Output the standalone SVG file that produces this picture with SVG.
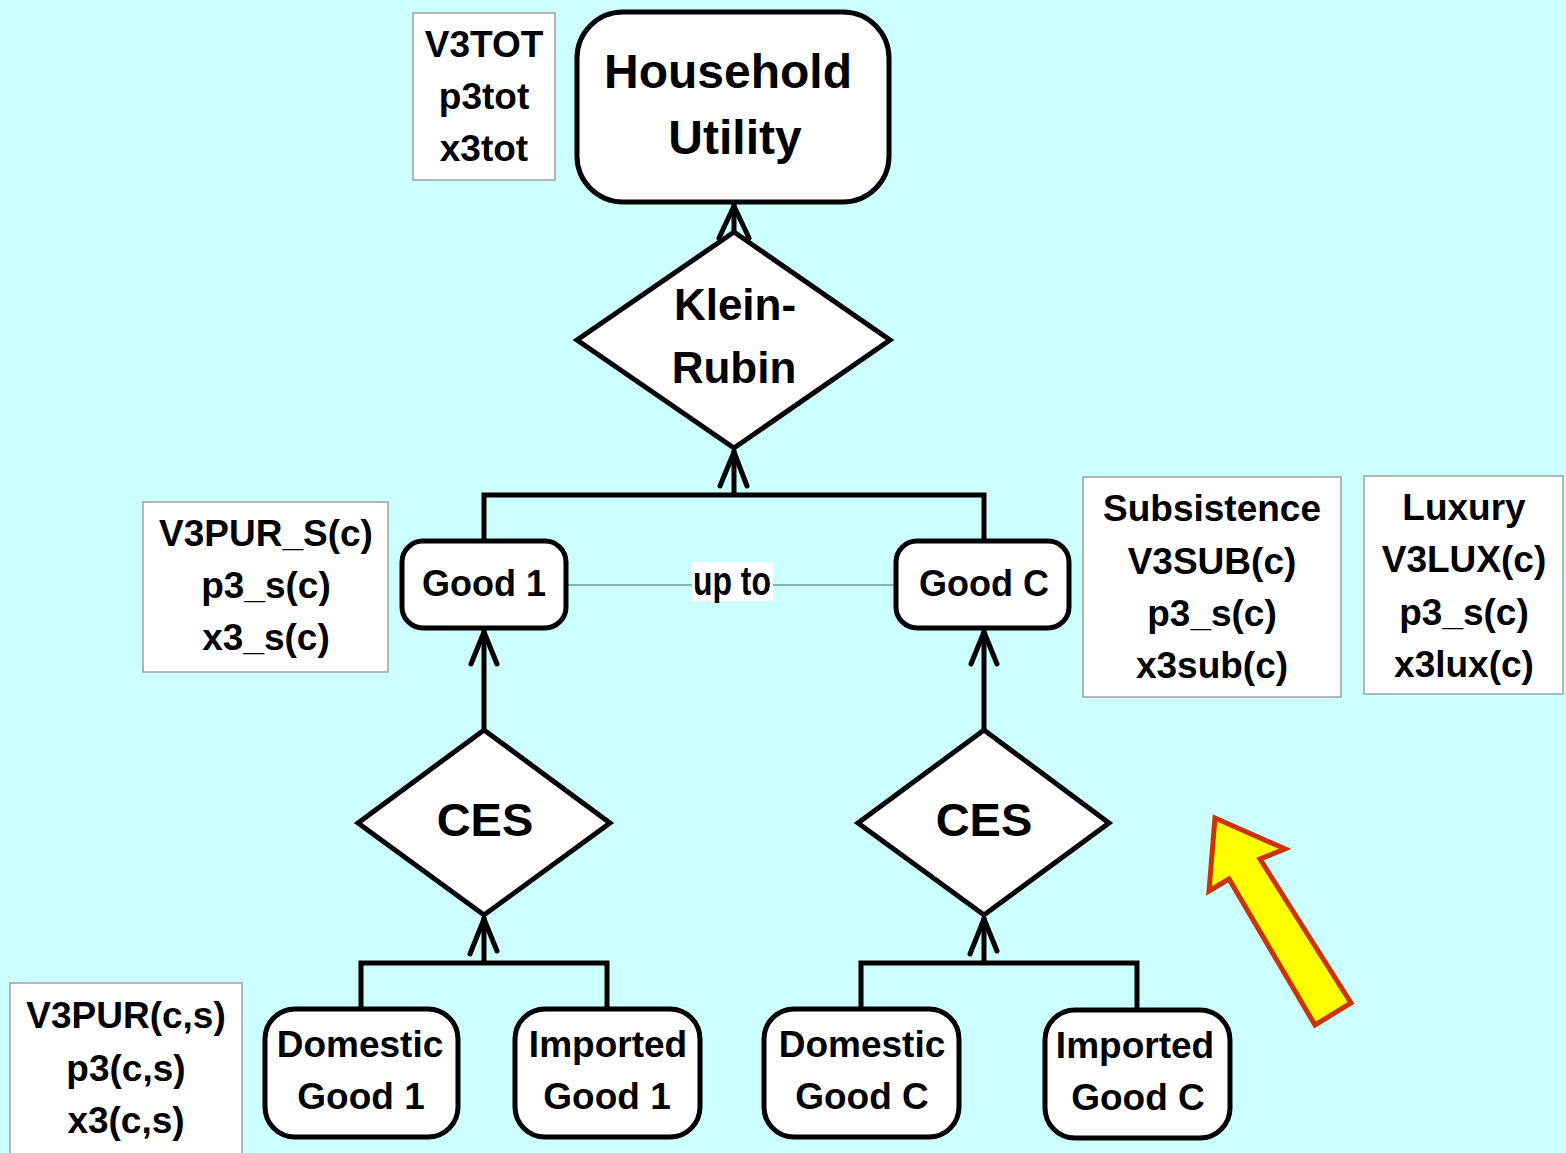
<svg xmlns="http://www.w3.org/2000/svg" width="1566" height="1153" viewBox="0 0 1566 1153">
  <style>
    text { font-family: "Liberation Sans", Arial, sans-serif; font-weight: bold; fill: #000; text-anchor: middle; }
    .node { fill: #fff; stroke: #000; stroke-width: 5; }
    .info { fill: #fff; stroke: #a0a0a0; stroke-width: 1.5; }
    .wire { fill: none; stroke: #000; stroke-width: 5; stroke-linejoin: miter; }
    .head { fill: none; stroke: #000; stroke-width: 5; stroke-linecap: round; stroke-linejoin: round; }
    .t37 { font-size: 37px; }
    .t36 { font-size: 36px; }
  </style>

  <rect width="1566" height="1153" fill="#ccffff"/>

  <!-- connectors -->
  <g id="connectors">
    <!-- Klein-Rubin to Household Utility -->
    <path class="wire" d="M734 232 V204"/>
    <path class="head" d="M719 238 L734 206 L749 238"/>
    <!-- Goods to Klein-Rubin -->
    <path class="wire" d="M484 541 V495 H984 V541 M734 495 V450"/>
    <path class="head" d="M720 486 L734 452 L747 486"/>
    <!-- thin "up to" line -->
    <path d="M566 585 H896" stroke="#5f9f9f" stroke-width="1.5"/>
    <!-- CES to Good 1 -->
    <path class="wire" d="M484 730 V630"/>
    <path class="head" d="M471 664 L484 632 L497 664"/>
    <!-- CES to Good C -->
    <path class="wire" d="M984 730 V630"/>
    <path class="head" d="M971 664 L984 632 L997 664"/>
    <!-- sources to left CES -->
    <path class="wire" d="M361 1010 V963 H607 V1010 M484 963 V917"/>
    <path class="head" d="M470 954 L484 919 L497 951"/>
    <!-- sources to right CES -->
    <path class="wire" d="M861 1010 V963 H1137 V1010 M984 963 V917"/>
    <path class="head" d="M970 954 L984 919 L997 951"/>
  </g>

  <!-- Household Utility -->
  <g id="household-utility">
    <rect class="node" x="577" y="12" width="312" height="190" rx="46"/>
    <text x="728" y="88" font-size="48">Household</text>
    <text x="735" y="154" font-size="48">Utility</text>
  </g>

  <g id="info-top">
    <rect class="info" x="413" y="13" width="142" height="167"/>
    <text class="t37" x="484" y="57">V3TOT</text>
    <text class="t37" x="484" y="109">p3tot</text>
    <text class="t37" x="484" y="161">x3tot</text>
  </g>

  <!-- Klein-Rubin nest -->
  <g id="klein-rubin">
    <polygon class="node" points="734,232 890,340 734,448 577,340"/>
    <text x="735" y="320" font-size="44">Klein-</text>
    <text x="734" y="383" font-size="44">Rubin</text>
  </g>

  <g id="good-1">
    <rect class="node" x="402" y="541" width="164" height="87" rx="21"/>
    <text class="t36" x="484" y="596">Good 1</text>
  </g>

  <g id="good-c">
    <rect class="node" x="896" y="541" width="173" height="87" rx="21"/>
    <text class="t36" x="984" y="596">Good C</text>
  </g>

  <g id="up-to">
    <rect x="692" y="562" width="81" height="39" fill="#fff"/>
    <text x="732" y="595" font-size="40" textLength="78" lengthAdjust="spacingAndGlyphs">up to</text>
  </g>

  <g id="info-good">
    <rect class="info" x="143" y="502" width="245" height="170"/>
    <text class="t37" x="266" y="546">V3PUR_S(c)</text>
    <text class="t37" x="266" y="598">p3_s(c)</text>
    <text class="t37" x="266" y="650">x3_s(c)</text>
  </g>

  <g id="info-subsistence">
    <rect class="info" x="1083" y="477" width="258" height="220"/>
    <text class="t37" x="1212" y="521">Subsistence</text>
    <text class="t37" x="1212" y="574">V3SUB(c)</text>
    <text class="t37" x="1212" y="626">p3_s(c)</text>
    <text class="t37" x="1212" y="678">x3sub(c)</text>
  </g>

  <g id="info-luxury">
    <rect class="info" x="1364" y="476" width="199" height="218"/>
    <text class="t37" x="1464" y="520">Luxury</text>
    <text class="t37" x="1464" y="572">V3LUX(c)</text>
    <text class="t37" x="1464" y="625">p3_s(c)</text>
    <text class="t37" x="1464" y="677">x3lux(c)</text>
  </g>

  <!-- CES nests -->
  <g id="ces-1">
    <polygon class="node" points="484,730 610,823 484,915 358,823"/>
    <text x="485" y="836" font-size="47">CES</text>
  </g>

  <g id="ces-c">
    <polygon class="node" points="984,730 1109,823 984,915 858,823"/>
    <text x="984" y="836" font-size="47">CES</text>
  </g>

  <!-- source nodes -->
  <g id="domestic-good-1">
    <rect class="node" x="265" y="1009" width="193" height="128" rx="30"/>
    <text class="t37" x="360" y="1057">Domestic</text>
    <text class="t37" x="361" y="1109">Good 1</text>
  </g>

  <g id="imported-good-1">
    <rect class="node" x="515" y="1009" width="185" height="128" rx="30"/>
    <text class="t37" x="608" y="1057">Imported</text>
    <text class="t37" x="607" y="1109">Good 1</text>
  </g>

  <g id="domestic-good-c">
    <rect class="node" x="764" y="1009" width="195" height="128" rx="30"/>
    <text class="t37" x="862" y="1057">Domestic</text>
    <text class="t37" x="862" y="1109">Good C</text>
  </g>

  <g id="imported-good-c">
    <rect class="node" x="1045" y="1010" width="185" height="128" rx="30"/>
    <text class="t37" x="1135" y="1058">Imported</text>
    <text class="t37" x="1138" y="1110">Good C</text>
  </g>

  <g id="info-source">
    <rect class="info" x="10" y="983" width="232" height="172"/>
    <text class="t37" x="126" y="1028">V3PUR(c,s)</text>
    <text class="t37" x="126" y="1081">p3(c,s)</text>
    <text class="t37" x="126" y="1133">x3(c,s)</text>
  </g>

  <!-- highlight arrow -->
  <g id="pointer">
    <polygon points="1215,818 1285,849 1260,859 1351,1003 1315,1025 1229,879 1209,891" fill="#ffff00" stroke="#cc3300" stroke-width="5" stroke-linejoin="miter"/>
  </g>
</svg>
